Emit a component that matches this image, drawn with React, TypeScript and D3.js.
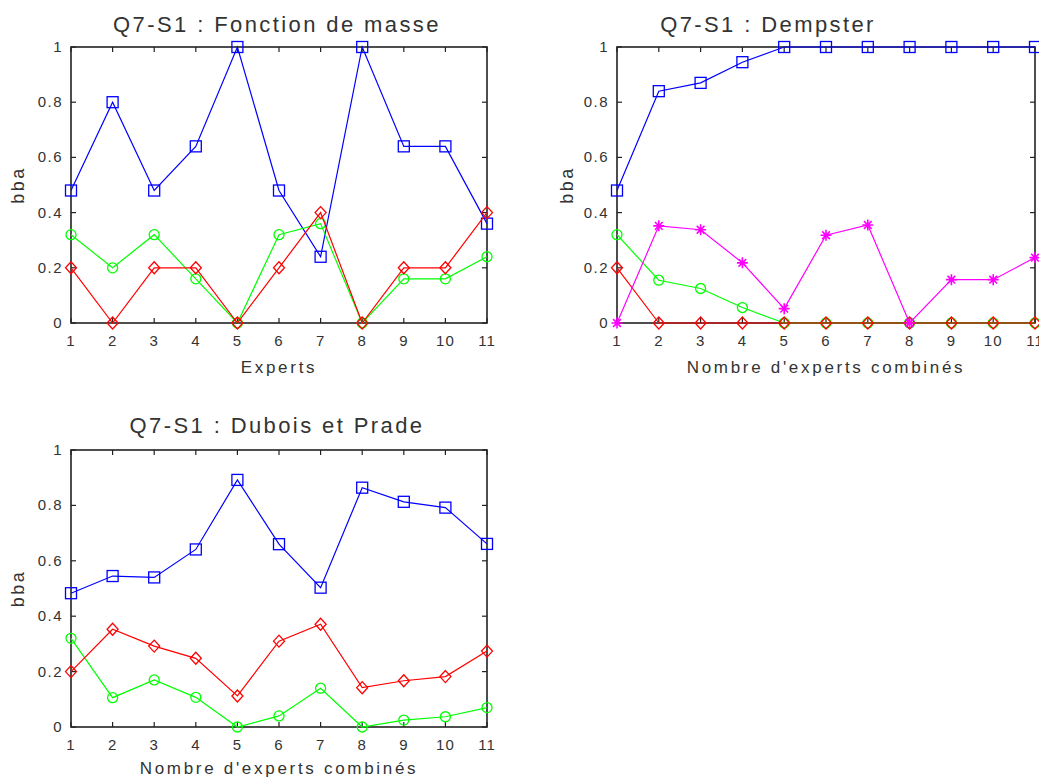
import React from "react";
import * as d3 from "d3";

const xValues = [1, 2, 3, 4, 5, 6, 7, 8, 9, 10, 11];
const yTicks = [0, 0.2, 0.4, 0.6, 0.8, 1];
const yTickLabels = ["0", "0.2", "0.4", "0.6", "0.8", "1"];

// Panel 1 : Fonction de masse
const massBlue = [0.48, 0.8, 0.48, 0.64, 1.0, 0.48, 0.24, 1.0, 0.64, 0.64, 0.36];
const massGreen = [0.32, 0.2, 0.32, 0.16, 0.0, 0.32, 0.36, 0.0, 0.16, 0.16, 0.24];
const massRed = [0.2, 0.0, 0.2, 0.2, 0.0, 0.2, 0.4, 0.0, 0.2, 0.2, 0.4];

// Panel 2 : Dempster
const dempBlue = [0.48, 0.84, 0.87, 0.945, 1, 1, 1, 1, 1, 1, 1];
const dempGreen = [0.32, 0.155, 0.125, 0.056, 0, 0, 0, 0, 0, 0, 0];
const dempRed = [0.2, 0, 0, 0, 0, 0, 0, 0, 0, 0, 0];
const dempMagenta = [0, 0.352, 0.338, 0.218, 0.052, 0.318, 0.355, 0, 0.157, 0.157, 0.237];

// Panel 3 : Dubois et Prade
const dpBlue = [0.483, 0.545, 0.54, 0.641, 0.892, 0.66, 0.503, 0.864, 0.813, 0.792, 0.661];
const dpRed = [0.2, 0.353, 0.292, 0.248, 0.112, 0.31, 0.371, 0.142, 0.167, 0.182, 0.274];
const dpGreen = [0.32, 0.106, 0.17, 0.107, 0.0, 0.04, 0.14, 0.0, 0.025, 0.037, 0.07];

type Marker = "square" | "circle" | "diamond" | "star";
type Series = { values: number[]; color: string; marker: Marker };

const FONT = "'Liberation Sans', Arial, sans-serif";
const TXT = "#333";

function MarkerShape({ m, x, y, color }: { m: Marker; x: number; y: number; color: string }) {
  const s = 1.3;
  if (m === "square")
    return <rect x={x - 5.5} y={y - 5.5} width={11} height={11} fill="none" stroke={color} strokeWidth={s} />;
  if (m === "circle") return <circle cx={x} cy={y} r={5} fill="none" stroke={color} strokeWidth={s} />;
  if (m === "diamond")
    return (
      <path
        d={`M${x},${y - 6}L${x + 5.5},${y}L${x},${y + 6}L${x - 5.5},${y}Z`}
        fill="none"
        stroke={color}
        strokeWidth={s}
      />
    );
  const r = 5.5;
  const d = r * 0.7;
  return (
    <path
      d={`M${x - r},${y}L${x + r},${y}M${x},${y - r}L${x},${y + r}M${x - d},${y - d}L${x + d},${y + d}M${x - d},${y + d}L${x + d},${y - d}`}
      stroke={color}
      strokeWidth={s + 0.3}
      fill="none"
    />
  );
}

function Panel({
  left,
  right,
  top,
  bottom,
  title,
  titleX,
  titleY,
  xlabel,
  xlabelY,
  ylabelX,
  series,
}: {
  left: number;
  right: number;
  top: number;
  bottom: number;
  title: string;
  titleX: number;
  titleY: number;
  xlabel: string;
  xlabelY: number;
  ylabelX: number;
  series: Series[];
}) {
  const x = d3.scaleLinear().domain([1, 11]).range([left, right]);
  const y = d3.scaleLinear().domain([0, 1]).range([bottom, top]);
  const line = d3
    .line<number>()
    .x((_, i) => x(xValues[i]))
    .y((v) => y(v));
  const tl = 5;
  const cx = (left + right) / 2;
  const cy = (top + bottom) / 2;
  return (
    <g>
      <text
        x={titleX}
        y={titleY}
        textAnchor="middle"
        fontFamily={FONT}
        fontSize={22}
        letterSpacing={2.4}
        fill={TXT}
      >
        {title}
      </text>
      {xValues.map((v) => (
        <g key={"xt" + v}>
          <line x1={x(v)} x2={x(v)} y1={bottom} y2={bottom - tl} stroke="#222" strokeWidth={1.2} />
          <line x1={x(v)} x2={x(v)} y1={top} y2={top + tl} stroke="#222" strokeWidth={1.2} />
          <text
            x={x(v)}
            y={bottom + 23}
            textAnchor="middle"
            fontFamily={FONT}
            fontSize={15}
            letterSpacing={1}
            fill={TXT}
          >
            {String(v)}
          </text>
        </g>
      ))}
      {yTicks.map((v, i) => (
        <g key={"yt" + v}>
          <line x1={left} x2={left + tl} y1={y(v)} y2={y(v)} stroke="#222" strokeWidth={1.2} />
          <line x1={right} x2={right - tl} y1={y(v)} y2={y(v)} stroke="#222" strokeWidth={1.2} />
          <text
            x={left - 8}
            y={y(v) + 5}
            textAnchor="end"
            fontFamily={FONT}
            fontSize={15}
            letterSpacing={1.5}
            fill={TXT}
          >
            {yTickLabels[i]}
          </text>
        </g>
      ))}
      <rect
        x={left}
        y={top}
        width={right - left}
        height={bottom - top}
        fill="none"
        stroke="#222"
        strokeWidth={1.6}
      />
      <text
        x={cx}
        y={xlabelY}
        textAnchor="middle"
        fontFamily={FONT}
        fontSize={17}
        letterSpacing={2.7}
        fill={TXT}
      >
        {xlabel}
      </text>
      <text
        transform={`translate(${ylabelX},${cy}) rotate(-90)`}
        textAnchor="middle"
        fontFamily={FONT}
        fontSize={18}
        letterSpacing={2.5}
        fill={TXT}
      >
        bba
      </text>
      {series.map((s, si) => (
        <g key={"s" + si}>
          <path d={line(s.values) || ""} fill="none" stroke={s.color} strokeWidth={1.2} />
          {s.values.map((v, i) => (
            <MarkerShape key={i} m={s.marker} x={x(xValues[i])} y={y(v)} color={s.color} />
          ))}
        </g>
      ))}
    </g>
  );
}

export default function App() {
  return (
    <svg
      width={1039}
      height={782}
      style={{ position: "absolute", left: 0, top: 0, background: "#fff" }}
    >
      <rect x={0} y={0} width={1039} height={782} fill="#fff" />
      <Panel
        left={71}
        right={487}
        top={47}
        bottom={323}
        title="Q7-S1 : Fonction de masse"
        titleX={277}
        titleY={32}
        xlabel="Experts"
        xlabelY={373}
        ylabelX={24}
        series={[
          { values: massBlue, color: "#0000ff", marker: "square" },
          { values: massGreen, color: "#00ff00", marker: "circle" },
          { values: massRed, color: "#ff0000", marker: "diamond" },
        ]}
      />
      <Panel
        left={617}
        right={1035}
        top={47}
        bottom={323}
        title="Q7-S1 : Dempster"
        titleX={768}
        titleY={32}
        xlabel="Nombre d'experts combinés"
        xlabelY={373}
        ylabelX={573}
        series={[
          { values: dempBlue, color: "#0000ff", marker: "square" },
          { values: dempGreen, color: "#00ff00", marker: "circle" },
          { values: dempRed, color: "#ff0000", marker: "diamond" },
          { values: dempMagenta, color: "#ff00ff", marker: "star" },
        ]}
      />
      <Panel
        left={71}
        right={487}
        top={450}
        bottom={727}
        title="Q7-S1 : Dubois et Prade"
        titleX={277}
        titleY={433}
        xlabel="Nombre d'experts combinés"
        xlabelY={774}
        ylabelX={24}
        series={[
          { values: dpBlue, color: "#0000ff", marker: "square" },
          { values: dpGreen, color: "#00ff00", marker: "circle" },
          { values: dpRed, color: "#ff0000", marker: "diamond" },
        ]}
      />
    </svg>
  );
}
